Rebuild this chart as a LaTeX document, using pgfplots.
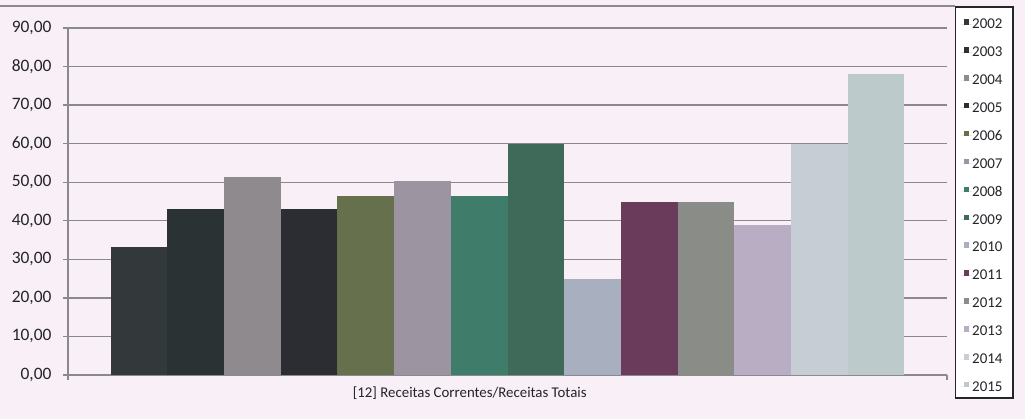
\documentclass[border=0pt]{standalone}
\usepackage{pgfplots}
\pgfplotsset{compat=1.18}
\usepackage{fontspec}
\setmainfont{Carlito}
\definecolor{bgc}{HTML}{F8EFF7}
\definecolor{gridc}{HTML}{8A8A8E}
\definecolor{txtc}{HTML}{24242A}
\definecolor{c2002}{HTML}{33383A}
\definecolor{c2003}{HTML}{2B3234}
\definecolor{c2004}{HTML}{8E8A8E}
\definecolor{c2005}{HTML}{2C2C33}
\definecolor{c2006}{HTML}{66704C}
\definecolor{c2007}{HTML}{9C94A0}
\definecolor{c2008}{HTML}{3F7D6A}
\definecolor{c2009}{HTML}{3F6A5A}
\definecolor{c2010}{HTML}{A8B0C0}
\definecolor{c2011}{HTML}{6B3B5C}
\definecolor{c2012}{HTML}{8A8C88}
\definecolor{c2013}{HTML}{B9ADC4}
\definecolor{c2014}{HTML}{C6CDD4}
\definecolor{c2015}{HTML}{BCCACC}
\begin{document}
\begin{tikzpicture}
\fill[bgc] (0,0) rectangle (1025bp,-419bp);
\draw[gridc, line width=1.3bp] (0,-6bp) -- (955bp,-6bp);
\filldraw[fill=white, draw=txtc, line width=1.2bp] (955.5bp,-7bp) rectangle (1013bp,-398bp);
\begin{axis}[
  at={(68bp,-375bp)}, anchor=south west,
  scale only axis, width=879bp, height=347bp,
  xmin=-1, xmax=1, ymin=0, ymax=90,
  ybar=0pt, bar width=56.7bp,
  axis lines*=left,
  axis line style={draw=gridc, line width=1.3bp},
  tick style={draw=gridc, line width=1.3bp},
  tick align=outside, major tick length=5bp,
  xtick={-1,1}, xticklabels={,},
  ytick={0,10,...,90},
  ymajorgrids, major grid style={draw=gridc, line width=1.3bp},
  yticklabel style={font=\fontsize{17.5}{19}\selectfont, text=txtc, xshift=-8bp},
  /pgf/number format/.cd, fixed, fixed zerofill, precision=2, use comma, 1000 sep={}, assume math mode=true,
  /pgfplots/.cd,
  xlabel={[12] Receitas Correntes/Receitas Totais},
  xlabel style={at={(axis description cs:0.457,0)}, anchor=north, yshift=-8bp, font=\fontsize{14.9}{16}\selectfont, text=txtc},
  legend style={at={(1.01365,1.0461)}, anchor=north west, draw=none, fill=none,
    inner xsep=2bp, inner ysep=7bp, row sep=17.9bp,
    font=\fontsize{15}{16}\selectfont, text=txtc,
    nodes={inner sep=0pt, text height=9.5bp, text depth=0.5bp}},
  legend cell align=left,
  legend image code/.code={\path (0bp,0bp) -- (11bp,0bp); \fill[#1,draw=none] (3bp,-0.5bp) rectangle (8bp,5bp);},
]
\addplot[fill=c2002, draw=none] coordinates {(0,33.2)};
\addplot[fill=c2003, draw=none] coordinates {(0,43.1)};
\addplot[fill=c2004, draw=none] coordinates {(0,51.4)};
\addplot[fill=c2005, draw=none] coordinates {(0,43.1)};
\addplot[fill=c2006, draw=none] coordinates {(0,46.4)};
\addplot[fill=c2007, draw=none] coordinates {(0,50.4)};
\addplot[fill=c2008, draw=none] coordinates {(0,46.5)};
\addplot[fill=c2009, draw=none] coordinates {(0,59.9)};
\addplot[fill=c2010, draw=none] coordinates {(0,24.9)};
\addplot[fill=c2011, draw=none] coordinates {(0,45.0)};
\addplot[fill=c2012, draw=none] coordinates {(0,45.0)};
\addplot[fill=c2013, draw=none] coordinates {(0,38.9)};
\addplot[fill=c2014, draw=none] coordinates {(0,60.0)};
\addplot[fill=c2015, draw=none] coordinates {(0,78.2)};
\legend{2002,2003,2004,2005,2006,2007,2008,2009,2010,2011,2012,2013,2014,2015}
\end{axis}
\pgfresetboundingbox
\path (0,0) rectangle (1025bp,-419bp);
\end{tikzpicture}
\end{document}
